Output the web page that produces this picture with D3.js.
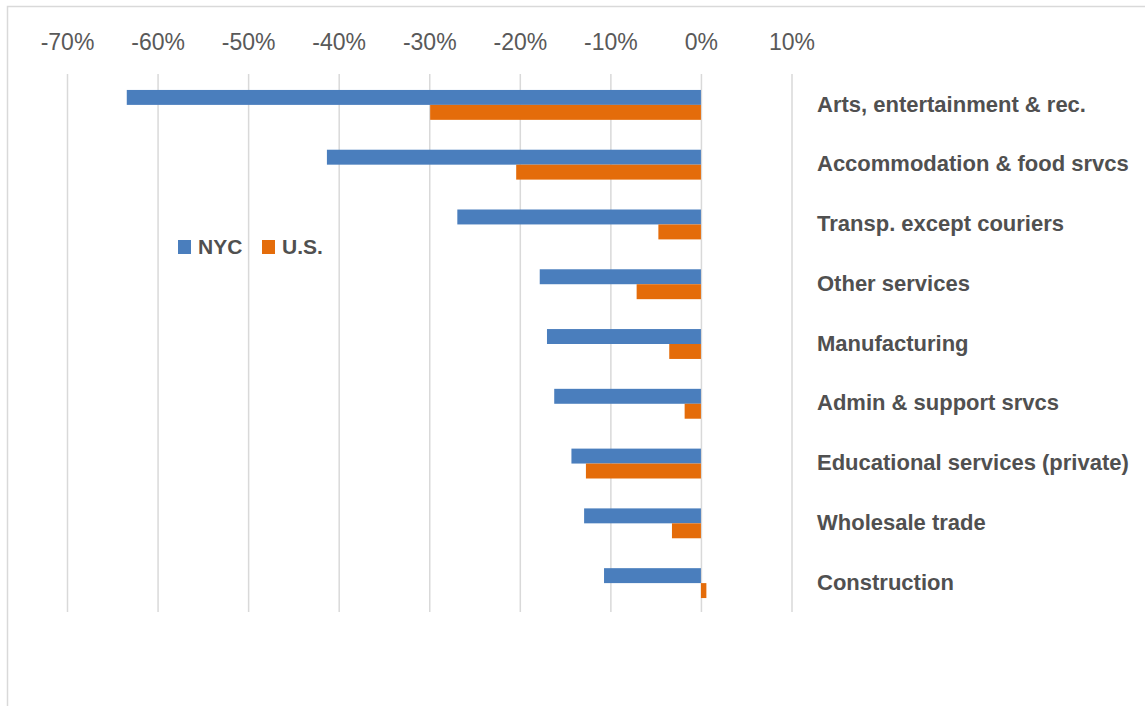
<!DOCTYPE html>
<html lang="en">
<head>
    <meta charset="UTF-8">
    <title>Employment change by industry</title>
    <style>
        body,html{
            margin:0;
            padding:0;
            border:0;
            background:#fff;
            font-family:"Liberation Sans", Arial, sans-serif;
        }
        svg{display:block;}
    </style>
</head>
<body>
    <svg id="svg" width="1145" height="706"></svg>
    <script type="text/javascript" src="https://cdnjs.cloudflare.com/ajax/libs/d3/7.8.5/d3.min.js"></script>
    <script type="text/javascript">
        var categories = ["Arts, entertainment & rec.", "Accommodation & food srvcs", "Transp. except couriers",
            "Other services", "Manufacturing", "Admin & support srvcs", "Educational services (private)",
            "Wholesale trade", "Construction"];
        var seriesNames = ["NYC", "U.S."];
        var nycValues = [-63.4, -41.3, -26.9, -17.8, -17.0, -16.2, -14.3, -12.9, -10.7];
        var usValues = [-29.9, -20.4, -4.7, -7.1, -3.5, -1.8, -12.7, -3.2, 0.6];
        var tickValues = [-70, -60, -50, -40, -30, -20, -10, 0, 10];
        var colors = ["#4a7ebd", "#e46c0a"];

        var data = categories.map(function(c, i){
            return {cat:c, values:[nycValues[i], usValues[i]]};
        });

        var svg = d3.select("#svg");

        //chart frame
        svg.append("rect")
            .attr("x", 7.5).attr("y", 6.5)
            .attr("width", 1160).attr("height", 720)
            .attr("fill", "none").attr("stroke", "#d9d9d9").attr("stroke-width", 1.5);

        var plotTop = 74, plotBottom = 612;
        var x = d3.scaleLinear().domain([-70, 10]).range([67, 791.5]);
        var y0 = d3.scaleBand().domain(categories).range([plotTop, plotBottom]).paddingInner(0.5).paddingOuter(0.25);
        var y1 = d3.scaleBand().domain(seriesNames).range([0, y0.bandwidth()]);

        //gridlines
        var grid = svg.append("g")
            .attr("transform", "translate(0," + plotTop + ")")
            .call(d3.axisBottom(x).tickValues(tickValues).tickSize(plotBottom - plotTop).tickFormat(""));
        grid.select(".domain").remove();
        grid.selectAll("line").attr("stroke", "#d9d9d9").attr("stroke-width", 1.5);

        //tick labels on top
        var ax = svg.append("g")
            .attr("transform", "translate(0,50)")
            .call(d3.axisTop(x).tickValues(tickValues).tickSize(0).tickPadding(0)
                .tickFormat(function(d){ return d + "%"; }));
        ax.select(".domain").remove();
        ax.selectAll("text")
            .attr("font-family", "'Liberation Sans', Arial, sans-serif")
            .attr("font-size", 23)
            .attr("fill", "#595959")
            .attr("dy", 0);

        //bars
        var groups = svg.selectAll("g.cat").data(data).enter().append("g")
            .attr("class", "cat")
            .attr("transform", function(d){ return "translate(0," + (y0(d.cat) + 1) + ")"; });

        groups.selectAll("rect").data(function(d){
            return d.values.map(function(v, j){ return {name:seriesNames[j], value:v, idx:j}; });
        }).enter().append("rect")
            .attr("x", function(d){ return x(Math.min(0, d.value)); })
            .attr("y", function(d){ return y1(d.name); })
            .attr("width", function(d){ return Math.abs(x(d.value) - x(0)); })
            .attr("height", y1.bandwidth())
            .attr("fill", function(d){ return colors[d.idx]; });

        //category labels
        svg.selectAll("text.cat").data(categories).enter().append("text")
            .attr("class", "cat")
            .attr("x", 817)
            .attr("y", function(d){ return y0(d) + y0.bandwidth() / 2; })
            .attr("dy", "0.35em")
            .attr("font-size", 22)
            .attr("font-weight", "bold")
            .attr("fill", "#505050")
            .text(function(d){ return d; });

        //legend
        var legendX = [178, 262];
        var legend = svg.selectAll("g.legend").data(seriesNames).enter().append("g")
            .attr("class", "legend")
            .attr("transform", function(d, i){ return "translate(" + legendX[i] + ",240)"; });
        legend.append("rect")
            .attr("width", 13).attr("height", 14)
            .attr("fill", function(d, i){ return colors[i]; });
        legend.append("text")
            .attr("x", 20).attr("y", 7).attr("dy", "0.35em")
            .attr("font-size", 21)
            .attr("font-weight", "bold")
            .attr("fill", "#505050")
            .text(function(d){ return d; });
    </script>
</body>
</html>
